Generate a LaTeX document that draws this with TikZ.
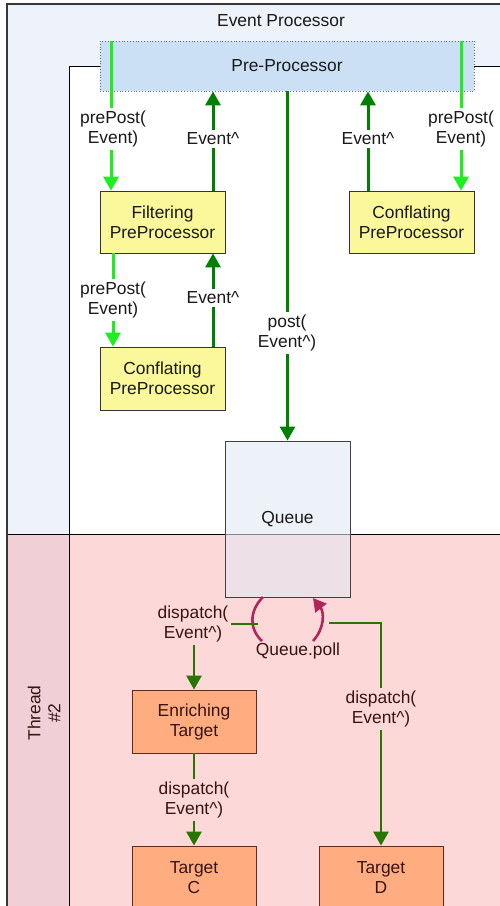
\documentclass[tikz,border=0pt]{standalone}
\usepackage{fontspec}
\setmainfont{Liberation Sans}
\usetikzlibrary{arrows.meta}

\definecolor{framebg}{RGB}{238,242,250}
\definecolor{framedraw}{RGB}{55,55,55}
\definecolor{threadbg}{RGB}{253,216,216}
\definecolor{stripbg}{RGB}{240,208,214}
\definecolor{prefill}{RGB}{204,224,245}
\definecolor{predraw}{RGB}{100,110,125}
\definecolor{yellowbox}{RGB}{251,248,155}
\definecolor{orangebox}{RGB}{255,173,128}
\definecolor{orangedraw}{RGB}{95,45,30}
\definecolor{queuefill}{RGB}{225,232,243}
\definecolor{litegreen}{RGB}{30,238,30}
\definecolor{darkgreen}{RGB}{0,128,0}
\definecolor{dispgreen}{RGB}{40,118,0}
\definecolor{pollred}{RGB}{176,38,90}
\definecolor{txttop}{RGB}{25,25,25}
\definecolor{txtthread}{RGB}{55,20,20}

\begin{document}
\begin{tikzpicture}[x=1pt,y=-1pt,
  font=\fontsize{17.4}{20}\selectfont,
  tip/.style={-{Triangle[width=15pt,length=14pt]}},
  prepost/.style={draw=litegreen, line width=3pt, tip},
  evreturn/.style={draw=darkgreen, line width=3pt, tip},
  dispatchline/.style={draw=dispgreen, line width=2.6pt, tip},
  pollarc/.style={draw=pollred, line width=2.6pt},
  ybox/.style={draw=black!80, line width=0.8pt, fill=yellowbox, minimum width=125pt,
    minimum height=62pt, align=center, inner sep=0pt, text=txttop},
  obox/.style={draw=orangedraw, line width=0.8pt, fill=orangebox, minimum width=124pt,
    minimum height=63pt, align=center, inner sep=0pt, text=txtthread},
  toplbl/.style={fill=white, inner sep=3pt, align=center, text=txttop},
  thrlbl/.style={fill=threadbg, inner sep=3pt, align=center, text=txtthread}]

\useasboundingbox (0,0) rectangle (500,906);
\begin{scope}
\clip (0,0) rectangle (500,906);

% swimlanes
\fill[framebg] (7,4) rectangle (520,534);
\fill[threadbg] (7,534) rectangle (520,930);
\fill[stripbg] (7,534) rectangle (69,930);
\draw[black, line width=0.8pt, fill=white] (520,66) -- (69,66) -- (69,534) -- (520,534);
\draw[black, line width=0.8pt] (7,534) -- (520,534);
\draw[black, line width=0.8pt] (69,534) -- (69,930);
\draw[framedraw, line width=1.6pt] (7,930) -- (7,4) -- (520,4);

\node[text=txttop] (evproc) at (281,21) {Event Processor};
\node[rotate=90, align=center, text=txtthread] (thread) at (44,713) {Thread\\\#2};

% pre-processor stage
\node[draw=predraw, dotted, line width=0.8pt, fill=prefill, minimum width=374pt,
  minimum height=50pt, inner sep=0pt, text=txttop] (pre) at (287,66) {Pre-Processor};
\node[ybox] (filt) at (162.5,222) {Filtering\\PreProcessor};
\node[ybox] (confR) at (411.5,222) {Conflating\\PreProcessor};
\node[ybox, minimum height=63pt] (confL) at (162.5,378.5) {Conflating\\PreProcessor};

% queue
\node[draw=black!75, line width=0.8pt, fill=queuefill, fill opacity=0.57, text opacity=1,
  minimum width=125pt, minimum height=156pt, inner sep=0pt, text=txttop] (queue) at (287.5,519) {Queue};

% targets
\node[obox] (enrich) at (194,721.5) {Enriching\\Target};
\node[obox] (tgtC) at (194,877.5) {Target\\C};
\node[obox] (tgtD) at (381,877.5) {Target\\D};

% pre-processor connectors
\coordinate (ppL) at (111,41);
\coordinate (ppR) at (461,41);
\draw[prepost] (ppL) -- (ppL |- filt.north);
\draw[prepost] (ppR) -- (ppR |- confR.north);
\draw[evreturn] (filt.north -| 213,0) -- (pre.south -| 213,0);
\draw[evreturn] (confR.north -| 368,0) -- (pre.south -| 368,0);
\draw[prepost] (filt.south -| 113,0) -- (confL.north -| 113,0);
\draw[evreturn] (confL.north -| 213,0) -- (filt.south -| 213,0);
\draw[evreturn] (pre.south -| queue.north) -- (queue.north);

\node[toplbl] (lblA) at (113,129) {prePost(\\Event)};
\node[toplbl] (lblB) at (213,139) {Event\textasciicircum};
\node[toplbl] (lblC) at (368,139) {Event\textasciicircum};
\node[toplbl] (lblD) at (461,129) {prePost(\\Event)};
\node[toplbl] (lblE) at (113,300) {prePost(\\Event)};
\node[toplbl] (lblF) at (213,298) {Event\textasciicircum};
\node[toplbl] (lblG) at (287,333) {post(\\Event\textasciicircum)};

% polling loop under the queue
\coordinate (pollL1) at (263,597);
\coordinate (pollL2) at (262,641);
\coordinate (pollR1) at (313,641);
\coordinate (pollR2) at (313,598);
\draw[pollarc] (pollL1) .. controls (249,611) and (249,629) .. (pollL2);
\draw[pollarc, -{Triangle[width=14pt,length=13pt]}] (pollR1) .. controls (325,628) and (324,612) .. (pollR2);
\node[text=txtthread, inner sep=1pt] (poll) at (298,651) {Queue.poll};

% dispatch connectors
\coordinate (dispL) at (258,624);
\coordinate (dispR) at (329,623);
\draw[dispatchline] (dispL) -| (enrich.north);
\draw[dispatchline] (dispR) -| (tgtD.north);
\draw[dispatchline] (enrich.south) -- (tgtC.north);
\node[thrlbl] (lblH) at (193,624) {dispatch(\\Event\textasciicircum)};
\node[thrlbl] (lblI) at (381,709) {dispatch(\\Event\textasciicircum)};
\node[thrlbl] (lblJ) at (194,800) {dispatch(\\Event\textasciicircum)};
\end{scope}
\end{tikzpicture}
\end{document}
